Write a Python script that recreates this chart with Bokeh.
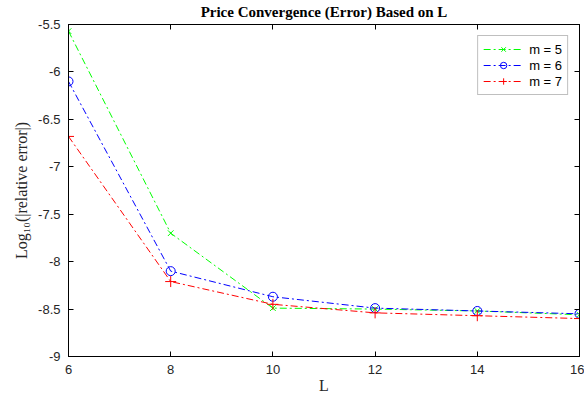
from bokeh.plotting import figure
from bokeh.models import LinearAxis, FixedTicker, Legend, CustomLabelingPolicy
from bokeh.embed import file_html
from bokeh.resources import INLINE

L = [6, 8, 10, 12, 14, 16]
err_m5 = [-5.57, -7.70, -8.49, -8.50, -8.52, -8.56]
err_m6 = [-6.10, -8.10, -8.37, -8.49, -8.52, -8.55]
err_m7 = [-6.68, -8.21, -8.45, -8.54, -8.57, -8.60]
series_labels = ["m = 5", "m = 6", "m = 7"]
x_ticks = [6, 8, 10, 12, 14, 16]
x_tick_labels = ["6", "8", "10", "12", "14", "16"]
y_ticks = [-9, -8.5, -8, -7.5, -7, -6.5, -6, -5.5]
y_tick_labels = ["-9", "-8.5", "-8", "-7.5", "-7", "-6.5", "-6", "-5.5"]

p = figure(width=584, height=397, output_backend="svg", toolbar_location=None,
           x_range=(6, 16), y_range=(-9, -5.5),
           min_border_left=68, min_border_right=0, min_border_top=24, min_border_bottom=41,
           title="Price Convergence (Error) Based on L")
p.title.text_font = "Liberation Serif"
p.title.text_font_style = "bold"
p.title.text_font_size = "15px"
p.title.align = "center"
p.title.text_color = "black"
p.title.standoff = 2
p.xgrid.visible = False
p.ygrid.visible = False
p.outline_line_color = "black"
p.outline_line_width = 1
p.background_fill_color = "white"
p.border_fill_color = "white"

tick_color = "#262626"
for ax, ticks, labels in ((p.xaxis[0], x_ticks, x_tick_labels), (p.yaxis[0], y_ticks, y_tick_labels)):
    ax.ticker = FixedTicker(ticks=ticks)
    ax.major_label_overrides = {t: s for t, s in zip(ticks, labels)}
    ax.major_tick_in = 5
    ax.major_tick_out = 0
    ax.minor_tick_line_color = None
    ax.axis_line_color = "black"
    ax.major_tick_line_color = "black"
    ax.major_label_text_font = "Liberation Sans"
    ax.major_label_text_font_size = "13px"
    ax.major_label_text_color = tick_color
    ax.axis_label_text_font = "Liberation Serif"
    ax.axis_label_text_font_size = "16px"
    ax.axis_label_text_font_style = "normal"
    ax.axis_label_text_color = tick_color

p.xaxis[0].axis_label = "L"
p.xaxis[0].major_label_standoff = 8
p.xaxis[0].axis_label_standoff = 0
p.yaxis[0].axis_label = "Log\u2081\u2080(|relative error|)"
p.yaxis[0].major_label_standoff = 8
p.yaxis[0].axis_label_standoff = 5

hide_all = CustomLabelingPolicy(code="""
const out = indices.clone()
for (const i of indices) { out.unset(i) }
return out
""")
for loc, ticks in (("right", y_ticks), ("above", x_ticks)):
    ax = LinearAxis(ticker=FixedTicker(ticks=ticks))
    ax.major_label_policy = hide_all
    ax.major_label_text_font_size = "1px"
    ax.major_label_standoff = 0
    ax.major_tick_in = 5
    ax.major_tick_out = 0
    ax.minor_tick_line_color = None
    ax.axis_line_color = "black"
    ax.major_tick_line_color = "black"
    p.add_layout(ax, loc)

dash = "7 3 2 3"
colors = ["#00ff00", "#0000ff", "#ff0000"]
markers = ["x", "circle", "cross"]
sizes = [8, 9, 11]
items = []
for ys, lab, c, mk, sz in zip([err_m5, err_m6, err_m7], series_labels, colors, markers, sizes):
    r1 = p.line(L, ys, line_color=c, line_width=1, line_dash=dash)
    r2 = p.scatter(L, ys, marker=mk, size=sz, line_color=c, fill_color=None, line_width=1)
    items.append((lab, [r1, r2]))

legend = Legend(items=items, location="top_right")
legend.margin = 11
legend.padding = 5
legend.spacing = 0
legend.label_height = 16
legend.glyph_height = 16
legend.glyph_width = 40
legend.label_standoff = 6
legend.label_text_font = "Liberation Sans"
legend.label_text_font_size = "13px"
legend.label_text_color = "black"
legend.border_line_color = "#808080"
legend.border_line_width = 1
legend.background_fill_color = "white"
legend.background_fill_alpha = 1
p.add_layout(legend, "center")

open("out.html", "w").write(file_html(p, INLINE))
